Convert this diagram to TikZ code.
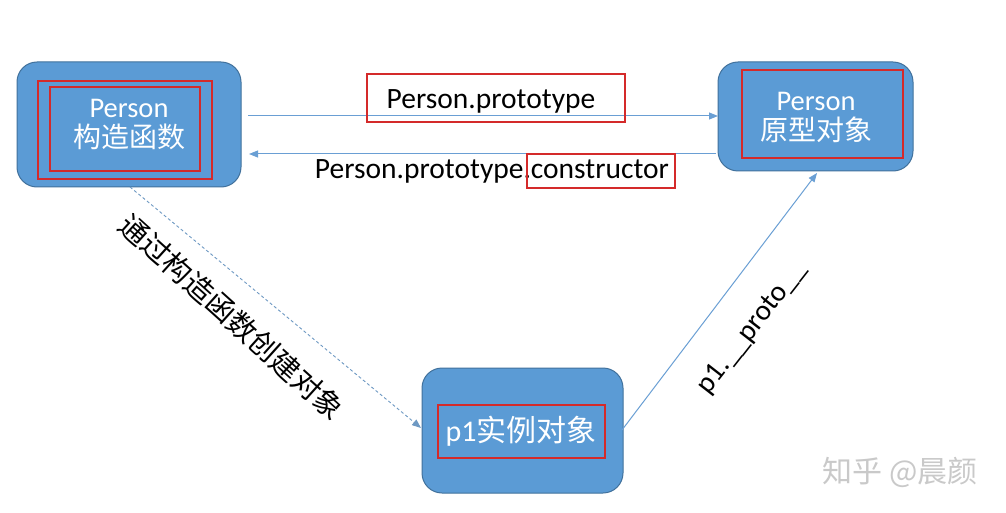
\documentclass[tikz,border=0pt]{standalone}
\usepackage{fontspec}
\setmainfont{Carlito}
\newfontfamily\cjk{Noto Sans CJK SC}
\usetikzlibrary{arrows.meta}
\definecolor{boxfill}{HTML}{5B9BD5}
\definecolor{boxdraw}{HTML}{41719C}
\definecolor{arrowc}{HTML}{6A9FD4}
\definecolor{redc}{HTML}{D42A2A}
\definecolor{wm}{HTML}{C9C9C9}
\tikzset{
  bluebox/.style={draw=boxdraw, line width=1pt, fill=boxfill, rounded corners=20pt, inner sep=0pt},
  boxtext/.style={text=white, font=\fontsize{28.5}{32}\selectfont, align=center, inner sep=0pt},
  redframe/.style={draw=redc, line width=1.8pt},
  conn/.style={draw=arrowc, line width=1pt, -{Triangle[length=9pt,width=7pt]}},
  dconn/.style={draw=arrowc!80!gray, line width=0.9pt, dash pattern=on 3pt off 2.5pt, -{Triangle[length=9pt,width=7pt]}},
  lbl/.style={text=black, font=\fontsize{29.5}{33}\selectfont, inner sep=0pt}
}
\begin{document}
\begin{tikzpicture}[x=1pt,y=-1pt]
\useasboundingbox[fill=white] (0,0) rectangle (1006,513);
% boxes
\node[bluebox, minimum width=224pt, minimum height=125pt] (ctor) at (129,124.5) {};
\node[bluebox, minimum width=195pt, minimum height=109pt] (proto) at (815.5,116.5) {};
\node[bluebox, minimum width=201pt, minimum height=125pt] (inst) at (522.5,430.5) {};
% red frames
\draw[redframe] (38,81) rectangle (212,179);
\draw[redframe] (50,87) rectangle (200,171);
\draw[redframe] (742,70) rectangle (903,158);
\draw[redframe] (438,405) rectangle (605,458);
% box texts
\node[boxtext] (ctortxt) at (129,125) {Person\\[-2pt]{\cjk\fontsize{28}{32}\selectfont 构造函数}};
\node[boxtext] (prototxt) at (816,117) {Person\\[-2pt]{\cjk\fontsize{28}{32}\selectfont 原型对象}};
\node[boxtext, font=\fontsize{30}{34}\selectfont] (insttxt) at (521,431) {p1{\cjk 实例对象}};
% connectors
\coordinate (a1) at (248,116);
\coordinate (a2) at (718,116);
\coordinate (b1) at (716,154);
\coordinate (b2) at (249,154);
\draw[conn] (a1) -- (a2);
\draw[conn] (b1) -- (b2);
\coordinate (d1) at (130,187);
\coordinate (d2) at (421,428);
\draw[dconn] (d1) -- (d2);
\coordinate (e1) at (622,430);
\coordinate (e2) at (817,173);
\draw[conn] (e1) -- (e2);
% labels
\node[lbl] (lproto) at (491,101) {Person.prototype};
\draw[redframe] (367,74) rectangle (625,122);
\node[lbl] (lctor) at (492,171) {Person.prototype.constructor};
\draw[redframe] (527,154) rectangle (675,188);
\node[lbl, font=\fontsize{29}{32}\selectfont\cjk, rotate=-42] (lnew) at (232,317) {通过构造函数创建对象};
\node[lbl, font=\fontsize{29}{32}\selectfont, rotate=52] (lp1) at (752,328) {p1.\_\_proto\_\_};
% watermark
\node[text=wm, font=\fontsize{30}{34}\selectfont\cjk, inner sep=0pt] (wmark) at (900,472) {知乎 @晨颜};
\end{tikzpicture}
\end{document}
